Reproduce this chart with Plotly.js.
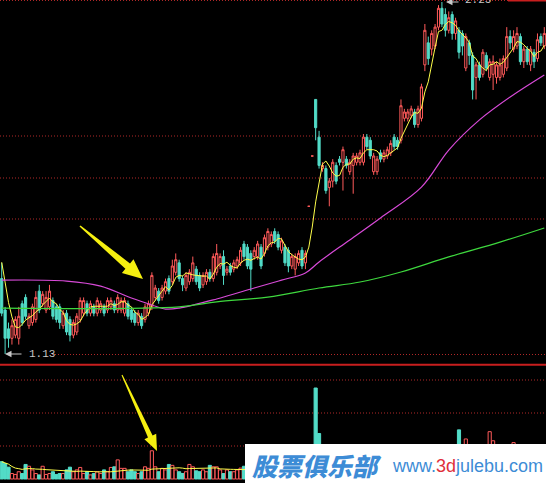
<!DOCTYPE html>
<html>
<head>
<meta charset="utf-8">
<script src="https://cdn.plot.ly/plotly-3.0.1.min.js"></script>
<style>
  html, body { margin: 0; padding: 0; background: #000; }
  #chart { width: 546px; height: 483px; }
</style>
</head>
<body>
<div id="chart"></div>
<script>
// Daily bars, oldest first
const opens = [
  1.37,1.27,1.21,1.18,1.19,1.18,1.29,1.31,1.22,1.23,
  1.24,1.33,1.29,1.27,1.28,1.30,1.28,1.28,1.22,1.26,
  1.24,1.19,1.20,1.24,1.26,1.29,1.26,1.28,1.26,1.27,
  1.28,1.27,1.28,1.29,1.27,1.27,1.26,1.29,1.27,1.26,
  1.23,1.25,1.24,1.26,1.28,1.31,1.33,1.31,1.33,1.37,
  1.36,1.39,1.42,1.37,1.34,1.36,1.37,1.40,1.38,1.35,
  1.36,1.39,1.37,1.39,1.41,1.44,1.39,1.41,1.40,1.41,
  1.42,1.48,1.47,1.45,1.44,1.44,1.47,1.45,1.47,1.48,
  1.52,1.51,1.46,1.47,1.46,1.41,1.40,1.42,1.46,1.42,
  1.60,1.76,1.94,1.82,1.72,1.72,1.66,1.68,1.73,1.75,
  1.74,1.75,1.71,1.73,1.74,1.74,1.74,1.82,1.81,1.71,
  1.71,1.77,1.75,1.76,1.77,1.82,1.81,1.81,1.88,1.88,
  1.89,1.90,1.86,1.88,2.05,2.12,2.10,2.11,2.17,2.23,
  2.21,2.16,2.21,2.15,2.16,2.15,2.04,2.12,2.08,2.01,
  2.05,2.02,2.08,2.01,2.02,2.01,2.01,2.02,2.04,2.14,
  2.10,2.11,2.14,2.06,2.10,2.05,2.09,2.07,2.14,2.11
];
const highs = [
  1.42,1.28,1.23,1.24,1.25,1.28,1.30,1.32,1.26,1.29,
  1.33,1.35,1.33,1.33,1.35,1.31,1.29,1.29,1.27,1.27,
  1.25,1.24,1.26,1.31,1.31,1.30,1.30,1.29,1.31,1.30,
  1.29,1.31,1.31,1.30,1.32,1.31,1.31,1.30,1.28,1.27,
  1.27,1.26,1.29,1.30,1.39,1.35,1.34,1.35,1.37,1.38,
  1.43,1.45,1.43,1.38,1.39,1.40,1.44,1.41,1.39,1.39,
  1.40,1.40,1.45,1.48,1.45,1.46,1.41,1.42,1.43,1.44,
  1.47,1.49,1.48,1.46,1.47,1.49,1.48,1.51,1.53,1.52,
  1.53,1.52,1.50,1.48,1.47,1.45,1.45,1.46,1.47,1.46,
  1.60,1.76,1.94,1.84,1.74,1.73,1.69,1.75,1.74,1.76,
  1.79,1.76,1.75,1.77,1.77,1.78,1.83,1.83,1.82,1.77,
  1.76,1.78,1.78,1.79,1.81,1.83,1.82,1.94,1.91,1.91,
  1.92,1.91,1.92,1.99,2.18,2.14,2.16,2.18,2.24,2.25,
  2.23,2.22,2.22,2.20,2.17,2.16,2.15,2.13,2.09,2.06,
  2.06,2.10,2.09,2.07,2.08,2.06,2.07,2.08,2.17,2.16,
  2.16,2.17,2.15,2.11,2.11,2.11,2.10,2.15,2.15,2.17
];
const lows = [
  1.25,1.13,1.15,1.16,1.18,1.16,1.22,1.24,1.21,1.22,
  1.23,1.26,1.28,1.26,1.27,1.24,1.23,1.21,1.21,1.19,
  1.17,1.18,1.19,1.23,1.25,1.25,1.25,1.25,1.25,1.26,
  1.25,1.26,1.27,1.26,1.26,1.26,1.25,1.24,1.23,1.22,
  1.22,1.21,1.23,1.25,1.27,1.30,1.29,1.30,1.32,1.32,
  1.35,1.38,1.36,1.33,1.33,1.35,1.36,1.35,1.33,1.34,
  1.35,1.36,1.36,1.38,1.40,1.35,1.38,1.38,1.39,1.40,
  1.41,1.43,1.40,1.33,1.43,1.43,1.40,1.44,1.46,1.47,
  1.48,1.46,1.45,1.41,1.39,1.40,1.38,1.41,1.40,1.40,
  1.60,1.76,1.81,1.72,1.71,1.64,1.60,1.66,1.67,1.73,
  1.65,1.72,1.70,1.64,1.73,1.73,1.73,1.78,1.75,1.70,
  1.70,1.74,1.74,1.75,1.76,1.78,1.78,1.80,1.87,1.87,
  1.88,1.85,1.85,1.87,2.03,2.05,2.08,2.10,2.16,2.17,
  2.14,2.15,2.13,2.13,2.07,2.08,2.03,2.05,1.94,1.94,
  2.00,2.01,2.03,2.00,1.97,1.99,2.00,2.01,2.03,2.10,
  2.09,2.10,2.05,2.04,2.05,2.03,2.04,2.06,2.11,2.10
];
const closes = [
  1.26,1.18,1.18,1.22,1.24,1.25,1.23,1.25,1.25,1.28,
  1.31,1.27,1.32,1.31,1.33,1.25,1.24,1.23,1.26,1.20,
  1.19,1.23,1.25,1.30,1.30,1.26,1.29,1.26,1.30,1.29,
  1.26,1.30,1.30,1.27,1.31,1.30,1.30,1.25,1.24,1.23,
  1.26,1.22,1.28,1.29,1.38,1.34,1.30,1.34,1.36,1.33,
  1.41,1.43,1.37,1.35,1.38,1.39,1.42,1.36,1.34,1.38,
  1.39,1.37,1.44,1.45,1.44,1.38,1.40,1.39,1.42,1.43,
  1.46,1.44,1.41,1.40,1.46,1.48,1.41,1.50,1.52,1.51,
  1.49,1.47,1.49,1.42,1.41,1.44,1.44,1.45,1.41,1.45,
  1.60,1.76,1.85,1.73,1.73,1.65,1.68,1.74,1.68,1.74,
  1.78,1.73,1.74,1.76,1.76,1.77,1.82,1.79,1.76,1.76,
  1.75,1.75,1.77,1.78,1.80,1.79,1.79,1.92,1.90,1.90,
  1.91,1.86,1.91,1.98,2.16,2.07,2.15,2.17,2.23,2.18,
  2.16,2.20,2.15,2.19,2.09,2.11,2.14,2.08,1.97,2.05,
  2.01,2.09,2.04,2.06,2.06,2.05,2.05,2.07,2.14,2.12,
  2.14,2.15,2.06,2.10,2.06,2.10,2.06,2.13,2.12,2.15
];
// Closes of the four sessions before the first bar (feed the 5-day average)
const priorCloses = [1.52, 1.48, 1.45, 1.40];

// Volume, 10k lots
const volumes = [
  19,17,13,6,5,8,6,16,14,10,
  6,4.5,14,5,6,8,5,6,6,10,
  13,8,10,12.7,6,8,4.5,6,8,6,
  10,8,12.7,13.4,21,11.7,11.7,8,10,8,
  6,8,13.4,11.7,31,13.4,8,11.7,10,16,
  15,10,8,6,8,16,13.4,9,8,10,
  8,15,13.4,13.4,10,6,10,8,8,10,
  12,14,20,15,25,18,14,20,22,16,
  18,15,12,20,16,12,10,14,12,15,
  2,3,100,50,30,35,28,25,22,20,
  24,18,16,20,15,14,26,20,18,16,
  14,12,13,15,16,14,12,30,20,15,
  14,16,18,28,30,30,25,28,33,32,
  30,25,28,24,54,30,44,28,32,25,
  20,22,18,52,42,25,20,22,30,26,
  40,24,22,18,20,22,16,25,20,22
];

// Long moving averages, read at selected bars
const maMidIdx = [0, 19, 29, 38, 44, 48, 52, 63, 74, 82, 89, 93, 102, 111, 123, 131, 140, 149, 159];
const maMidVal = [1.365, 1.362, 1.346, 1.308, 1.286, 1.273, 1.276, 1.305, 1.340, 1.365, 1.388, 1.423, 1.493, 1.563, 1.661, 1.779, 1.875, 1.948, 2.018];
const maLongIdx = [0, 52, 63, 78, 93, 105, 117, 131, 146, 159];
const maLongVal = [1.276, 1.280, 1.296, 1.311, 1.340, 1.359, 1.391, 1.439, 1.486, 1.531];

const lowLabel = '1.13';
const highLabel = '2.25';

const UP = '#ff5a5a';
const DOWN = '#52dcc8';
const N = closes.length;
const idx = closes.map((_, i) => i);

// 5-day average of closes
const allCloses = priorCloses.concat(closes);
const ma5 = closes.map((_, i) => {
  const j = i + priorCloses.length;
  const w = allCloses.slice(Math.max(0, j - 4), j + 1);
  return w.reduce((a, b) => a + b, 0) / w.length;
});

// 20-day average of volume
const volMa = volumes.map((_, i) => {
  const w = volumes.slice(Math.max(0, i - 19), i + 1);
  return w.reduce((a, b) => a + b, 0) / w.length;
});

const isUp = closes.map((c, i) => c > opens[i] || (c === opens[i] && (i === 0 || c >= closes[i - 1])));

// pixel -> paper helpers for decorations
const W = 546, H = 483;
const PX = x => x / W;
const PY = y => 1 - y / H;

function poly(pts) {
  return 'M ' + pts.map(p => PX(p[0]).toFixed(5) + ',' + PY(p[1]).toFixed(5)).join(' L ') + ' Z';
}

const traces = [
  {
    type: 'candlestick', x: idx, open: opens, high: highs, low: lows, close: closes,
    xaxis: 'x', yaxis: 'y',
    increasing: { line: { color: UP, width: 1 }, fillcolor: '#000' },
    decreasing: { line: { color: DOWN, width: 1 }, fillcolor: DOWN },
    whiskerwidth: 0, hoverinfo: 'none', showlegend: false
  },
  { type: 'scatter', mode: 'lines', x: idx, y: ma5, xaxis: 'x', yaxis: 'y',
    line: { color: '#ffff4a', width: 1 }, hoverinfo: 'none' },
  { type: 'scatter', mode: 'lines', x: maMidIdx, y: maMidVal, xaxis: 'x', yaxis: 'y',
    line: { color: '#d84ad8', width: 1.2, shape: 'spline', smoothing: 1 }, hoverinfo: 'none' },
  { type: 'scatter', mode: 'lines', x: maLongIdx, y: maLongVal, xaxis: 'x', yaxis: 'y',
    line: { color: '#3ed83e', width: 1.2, shape: 'spline', smoothing: 1 }, hoverinfo: 'none' },
  {
    type: 'bar', x: idx, y: volumes, xaxis: 'x', yaxis: 'y2',
    marker: {
      color: isUp.map(u => u ? '#000' : DOWN),
      line: { color: isUp.map(u => u ? UP : DOWN), width: 1 }
    },
    hoverinfo: 'none'
  },
  { type: 'scatter', mode: 'lines', x: idx, y: volMa, xaxis: 'x', yaxis: 'y2',
    line: { color: '#ffff4a', width: 1 }, hoverinfo: 'none' }
];

// price axis: 2.25 sits 2px below the top, 1.13 at 354px
const pricePerPx = (2.25 - 1.13) / 352;
const priceTop = 2.25 + 2 * pricePerPx;
const priceBottom = priceTop - 365 * pricePerPx;
// volume axis: zero sits 4px above the bottom edge
const volPerPx = 1 / 0.91;

const dotted = { color: '#b02828', width: 1, dash: '1px,2px' };
function hline(y, x0, x1, line, layer) {
  return { type: 'line', xref: 'paper', yref: 'paper', x0: PX(x0), x1: PX(x1), y0: PY(y), y1: PY(y), line: line, layer: layer || 'below' };
}

const shapes = [
  hline(0.5, 0, 546, dotted),
  hline(136, 0, 546, dotted),
  hline(178, 0, 546, dotted),
  hline(219, 0, 546, dotted),
  hline(354.5, 52, 546, dotted),
  hline(380, 0, 546, dotted),
  hline(413, 0, 546, dotted),
  hline(446, 0, 546, dotted),
  hline(364.7, 0, 546, { color: '#c81e1e', width: 2 }, 'above'),
  hline(0.5, 508, 546, { color: '#c81e1e', width: 2 }, 'above'),
  // pointer arrows
  { type: 'path', xref: 'paper', yref: 'paper', layer: 'above', fillcolor: '#f5ef10', line: { width: 0 },
    path: poly([[79.5,226.6],[125.4,268.8],[121.9,273.0],[143,279],[133.5,259.2],[130.0,263.4],[80.5,225.4]]) },
  { type: 'path', xref: 'paper', yref: 'paper', layer: 'above', fillcolor: '#f5ef10', line: { width: 0 },
    path: poly([[121.5,375.3],[148.0,437.5],[144.4,439.2],[157,451],[156.2,433.8],[152.6,435.5],[122.5,374.7]]) },
  // site banner
  { type: 'rect', xref: 'paper', yref: 'paper', layer: 'above', x0: PX(245), x1: 1, y0: 0, y1: PY(444),
    fillcolor: '#ffffff', line: { width: 0 } }
];

const annotations = [
  { xref: 'paper', yref: 'paper', x: PX(5), y: PY(354), ax: 18, ay: 0, text: '', showarrow: true,
    arrowhead: 2, arrowsize: 1.3, arrowwidth: 1, arrowcolor: '#c8c8c8' },
  { xref: 'paper', yref: 'paper', x: PX(27), y: PY(354), xanchor: 'left', yanchor: 'middle', showarrow: false,
    text: lowLabel, font: { family: 'Liberation Mono, DejaVu Sans Mono, monospace', size: 11, color: '#c8c8c8' } },
  { xref: 'paper', yref: 'paper', x: PX(446), y: PY(2), ax: 14, ay: 0, text: '', showarrow: true,
    arrowhead: 2, arrowsize: 1.3, arrowwidth: 1, arrowcolor: '#c8c8c8' },
  { xref: 'paper', yref: 'paper', x: PX(463), y: PY(0), xanchor: 'left', yanchor: 'middle', showarrow: false,
    text: highLabel, font: { family: 'Liberation Mono, DejaVu Sans Mono, monospace', size: 11, color: '#c8c8c8' } },
  { xref: 'paper', yref: 'paper', x: PX(317), y: PY(465), xanchor: 'center', yanchor: 'middle', showarrow: false,
    text: '股票俱乐部', font: { family: 'Noto Sans CJK SC', size: 25, color: '#3d8cd6', weight: 900, style: 'italic' } },
  { xref: 'paper', yref: 'paper', x: PX(467), y: PY(466), xanchor: 'center', yanchor: 'middle', showarrow: false,
    text: 'www.<span style="color:#e02f3b">3d</span>julebu.com',
    font: { family: 'Liberation Sans, Arial, sans-serif', size: 18, color: '#3d8cd6' } }
];

const layout = {
  width: W, height: H,
  margin: { l: 0, r: 0, t: 0, b: 0, pad: 0 },
  paper_bgcolor: '#000', plot_bgcolor: '#000',
  showlegend: false, dragmode: false,
  boxgap: 0.1, bargap: 0.08,
  xaxis: { range: [-0.5, N - 0.5], visible: false, fixedrange: true, rangeslider: { visible: false } },
  yaxis: { domain: [1 - 365 / H, 1], range: [priceBottom, priceTop], visible: false, fixedrange: true },
  yaxis2: { domain: [0, 1 - 367 / H], range: [-4 * volPerPx, 112 * volPerPx], visible: false, fixedrange: true, anchor: 'x' },
  shapes: shapes,
  annotations: annotations
};

Plotly.newPlot('chart', traces, layout, { displayModeBar: false, staticPlot: true });
</script>
</body>
</html>
